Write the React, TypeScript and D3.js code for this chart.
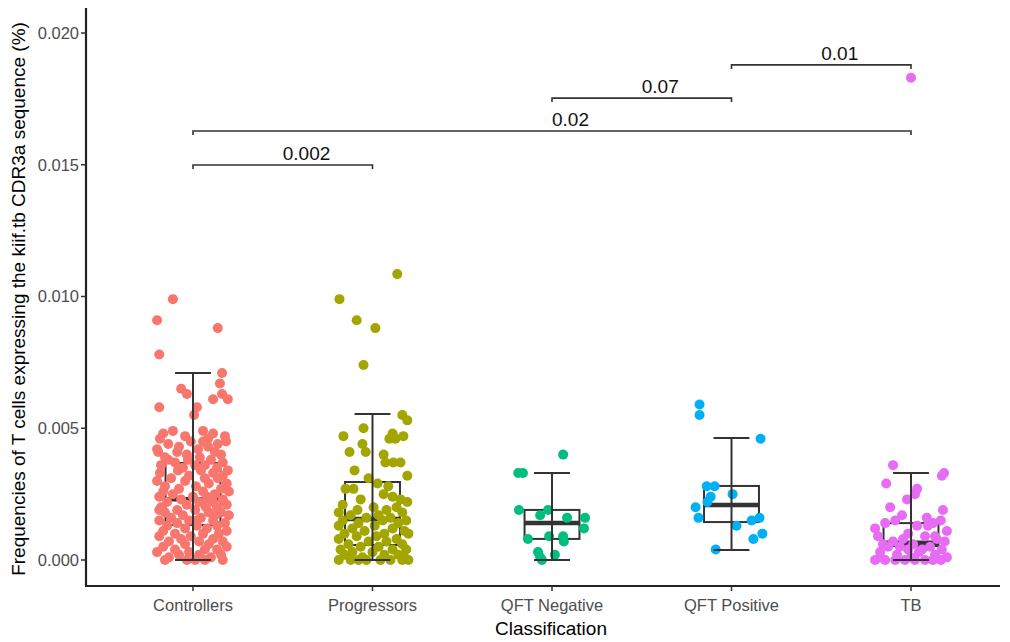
import React from "react";
import * as d3 from "d3";

const categories = ["Controllers", "Progressors", "QFT Negative", "QFT Positive", "TB"];
const colors = ["#F8766D", "#A3A500", "#00BF7D", "#00B0F6", "#E76BF3"];
const yTicks = [0, 0.005, 0.01, 0.015, 0.02];

// box summaries
const q1 = [0.00133, 0.00057, 0.0008, 0.00144, 0.00053];
const medians = [0.00231, 0.00156, 0.0014, 0.00209, 0.00065];
const q3 = [0.00368, 0.00296, 0.0019, 0.00281, 0.0014];
const whiskerLo = [0, 0, 0, 0.00038, 0];
const whiskerHi = [0.0071, 0.00554, 0.0033, 0.00463, 0.0033];

// [value, jitter (-1..1 of jitter width)]
const controllers: [number, number][] = [
  [0.0099, -0.56], [0.0091, -1], [0.0088, 0.69], [0.0078, -0.94], [0.0071, 0.81], [0.0067, 0.75],
  [0.0065, -0.33], [0.0063, -0.17], [0.0063, 0.81], [0.0061, 0.56], [0.0061, 0.97], [0.0058, -0.94],
  [0.0058, 0.11], [0.0055, 0.03], [0.0049, -0.56], [0.0049, 0.28], [0.0048, -0.83], [0.0048, 0.56],
  [0.0047, -0.22], [0.0047, 0.89], [0.0046, -0.92], [0.0046, 0.42], [0.0045, 0.28], [0.0045, 0.92],
  [0.0045, -0.06], [0.0044, -0.69], [0.0044, 0.69], [0.0043, 0.42], [0.0043, -0.39], [0.0042, 0.14],
  [0.0042, -1], [0.0041, -0.44], [0.0041, 0.61], [0.0041, -0.97], [0.004, 0.78], [0.004, -0.17],
  [0.0039, 0.19], [0.0039, -0.78], [0.0038, -0.69], [0.0038, -0.14], [0.0038, 0.5], [0.0037, 0.83],
  [0.0037, -0.5], [0.0036, 0.06], [0.0036, -0.89], [0.0036, 0.33], [0.0035, 0.67], [0.0035, -0.28],
  [0.0034, 0.97], [0.0034, -0.42], [0.0034, 0.22], [0.0033, -0.92], [0.0033, 0.56], [0.0032, -0.11],
  [0.0032, 0.83], [0.0031, 0.69], [0.0031, -0.61], [0.0031, 0.33], [0.003, -0.22], [0.003, -1],
  [0.0029, 0.44], [0.0029, 0.94], [0.0028, -0.78], [0.0028, 0.08], [0.0027, 0.78], [0.0027, -0.39],
  [0.0026, 0.28], [0.0026, -0.83], [0.0026, 1], [0.0025, -0.56], [0.0025, 0.61], [0.0024, 0],
  [0.0024, -0.94], [0.0024, 0.39], [0.0023, 0.83], [0.0023, -0.33], [0.0022, -0.72], [0.0022, 0.17],
  [0.0022, 0.56], [0.0021, -0.17], [0.0021, 0.94], [0.0021, 0.33], [0.002, 0.67], [0.002, -0.89],
  [0.002, 0.36], [0.0019, -0.44], [0.0019, 0.06], [0.0019, -0.94], [0.0018, 0.78], [0.0018, -0.78],
  [0.0018, 0.44], [0.0017, -0.28], [0.0017, 1], [0.0017, 0.61], [0.0016, 0.22], [0.0016, -0.61],
  [0.0015, 0.56], [0.0015, -0.94], [0.0015, -0.11], [0.0015, 0.11], [0.0014, 0.89], [0.0014, -0.44],
  [0.0013, 0.11], [0.0013, -0.72], [0.0013, 0.67], [0.0012, -0.22], [0.0012, 0.39], [0.0011, 0.94],
  [0.0011, -0.83], [0.001, -0.5], [0.001, 0.28], [0.001, 0.72], [0.0009, -0.06], [0.0009, -0.94],
  [0.0008, 0.56], [0.0008, -0.33], [0.0007, 0.83], [0.0007, -0.67], [0.0007, 0.17], [0.0006, -0.22],
  [0.0006, 0.44], [0.0005, -0.83], [0.0005, 0.94], [0.0004, 0.33], [0.0004, -0.5], [0.0004, 0.67],
  [0.0003, -0.11], [0.0003, -1], [0.0002, 0.78], [0.0002, 0.17], [0.0002, -0.39], [0.0001, -0.67],
  [0.0001, 0.5], [0, -0.78], [0, -0.17], [0, 0.33], [0, 0.06], [0, 0.83],
];

const progressors: [number, number][] = [
  [0.01085, 0.69], [0.0099, -0.92], [0.0091, -0.44], [0.0088, 0.08], [0.0074, -0.25], [0.0055, 0.83],
  [0.0053, 0.97], [0.005, -0.25], [0.0048, 0.56], [0.0047, -0.81], [0.0047, 0.86], [0.0046, 0.64],
  [0.0046, 0.47], [0.0044, -0.28], [0.0041, -0.64], [0.0041, -0.19], [0.004, 0.31], [0.0037, 0.36],
  [0.0037, 0.58], [0.0037, 0.78], [0.0034, -0.5], [0.0032, 0.97], [0.0031, -0.11], [0.0029, 0.14],
  [0.0028, 0.44], [0.0027, -0.75], [0.0027, -0.53], [0.0025, 0.31], [0.0024, 0.56], [0.0023, -0.33],
  [0.0023, 0.78], [0.0022, 0.97], [0.0021, -0.83], [0.002, 0.03], [0.002, 0.67], [0.0019, -0.42],
  [0.0019, 0.39], [0.0018, 0.83], [0.0018, -0.94], [0.0017, -0.61], [0.0017, 0.17], [0.0016, 0.5],
  [0.0016, -0.17], [0.0015, -0.83], [0.0015, 0.94], [0.0015, 0.28], [0.0014, -0.39], [0.0014, 0.72],
  [0.0013, -0.94], [0.0013, 0.06], [0.0012, 0.56], [0.0012, -0.56], [0.0011, 0.89], [0.0011, -0.22],
  [0.001, -0.78], [0.001, 0.33], [0.001, 1], [0.0009, -0.44], [0.0009, 0.11], [0.0008, 0.67],
  [0.0008, -0.94], [0.0007, -0.11], [0.0007, 0.39], [0.0006, -0.67], [0.0006, 0.83], [0.0005, 0.17],
  [0.0005, -0.33], [0.0004, -0.89], [0.0004, 0.56], [0.0004, 0.94], [0.0003, -0.56], [0.0003, 0],
  [0.0002, 0.33], [0.0002, -0.78], [0.0002, 0.72], [0.0001, -0.28], [0.0001, 0.89], [0, -0.94],
  [0, -0.61], [0, -0.17], [0, 0.22], [0, 0.5], [0, 0.83], [0, 1], [0, -0.39],
];

const qftNegative: [number, number][] = [
  [0.004, 0.31], [0.0033, -0.94], [0.0033, -0.81], [0.0019, -0.92], [0.0017, -0.33], [0.0019, -0.11],
  [0.0016, 0.42], [0.0016, 0.92], [0.0012, 0.89], [0.0008, -0.67], [0.0009, -0.08], [0.0009, 0.31],
  [0.0007, 0.33], [0.0003, -0.39], [0.0001, -0.33], [0.0002, 0.08], [0, -0.28],
];

const qftPositive: [number, number][] = [
  [0.0059, -0.89], [0.0055, -0.89], [0.0046, 0.81], [0.0028, -0.69], [0.0028, -0.47], [0.0024, -0.58],
  [0.0025, 0.03], [0.0022, -0.67], [0.002, -1], [0.0016, -0.92], [0.0015, 0.56], [0.0016, 0.78],
  [0.0013, 0.14], [0.0008, 0.61], [0.001, 0.86], [0.0004, -0.44],
];

const tb: [number, number][] = [
  [0.0183, 0], [0.0036, -0.5], [0.0033, 0.92], [0.0032, 0.86], [0.0029, -0.69], [0.0027, 0.17],
  [0.0025, 0.11], [0.0023, -0.11], [0.002, -0.58], [0.0019, 0.89], [0.0017, -0.25], [0.0016, 0.44],
  [0.0015, -0.44], [0.0015, 0.83], [0.0014, -0.72], [0.0014, 0.61], [0.0013, 0.17], [0.0013, 0.47],
  [0.0012, -1], [0.0011, 1], [0.001, -0.08], [0.0009, -0.92], [0.0009, 0.67], [0.0009, 0.39],
  [0.0008, 0.72], [0.0008, -0.22], [0.0007, -0.5], [0.0007, 0.94], [0.0006, 0.06], [0.0006, -0.78],
  [0.0005, -0.64], [0.0005, -0.31], [0.0005, 0.53], [0.0004, -0.08], [0.0004, 0.31], [0.0004, 0.86],
  [0.0003, -0.86], [0.0003, 0.22], [0.0002, 0.67], [0.0002, -0.39], [0.0001, -0.86], [0.0001, 1],
  [0.0001, 0], [0, -1], [0, -0.72], [0, -0.44], [0, -0.17], [0, 0.11], [0, 0.39], [0, 0.61], [0, 0.83],
];

const groups = [controllers, progressors, qftNegative, qftPositive, tb];

// significance brackets: [from, to, y, label]
const brackets: [number, number, number, string][] = [
  [0, 1, 0.01499, "0.002"],
  [0, 4, 0.01628, "0.02"],
  [2, 3, 0.01753, "0.07"],
  [3, 4, 0.01879, "0.01"],
];

const font = "'Liberation Sans', Arial, sans-serif";

export default function App() {
  const width = 1010;
  const height = 642;
  const left = 86;
  const bottom = 586;
  const top = 8;
  const right = 1000;

  const x = d3.scalePoint<string>().domain(categories).range([193, 911]);
  const step = x.step();
  const y = d3.scaleLinear().domain([0, 0.02]).range([560, 33]);

  const jitterW = 0.2 * step;
  const boxHalf = 0.153 * step;
  const capHalf = 0.1 * step;
  const stroke = "#333333";

  return (
    <svg
      width={width}
      height={height}
      style={{ position: "absolute", left: 0, top: 0, background: "#fff" }}
      fontFamily={font}
    >
      {/* boxes under the points */}
      {categories.map((c, i) => {
        const cx = x(c)!;
        return (
          <g key={c}>
            <rect
              x={cx - boxHalf}
              y={y(q3[i])}
              width={boxHalf * 2}
              height={y(q1[i]) - y(q3[i])}
              fill="none"
              stroke={stroke}
              strokeWidth={2}
            />
            <line
              x1={cx - boxHalf}
              x2={cx + boxHalf}
              y1={y(medians[i])}
              y2={y(medians[i])}
              stroke={stroke}
              strokeWidth={4.5}
            />
          </g>
        );
      })}

      {/* jittered points */}
      {groups.map((pts, i) => (
        <g key={i} fill={colors[i]}>
          {pts.map(([v, j], k) => (
            <circle key={k} cx={x(categories[i])! + j * jitterW} cy={y(v)} r={5} />
          ))}
        </g>
      ))}

      {/* error bars on top */}
      {categories.map((c, i) => {
        const cx = x(c)!;
        return (
          <g key={c} stroke={stroke} strokeWidth={2}>
            <line x1={cx} x2={cx} y1={y(whiskerLo[i])} y2={y(whiskerHi[i])} />
            <line x1={cx - capHalf} x2={cx + capHalf} y1={y(whiskerHi[i])} y2={y(whiskerHi[i])} />
            <line x1={cx - capHalf} x2={cx + capHalf} y1={y(whiskerLo[i])} y2={y(whiskerLo[i])} />
          </g>
        );
      })}

      {/* brackets */}
      {brackets.map(([a, b, v, label], i) => {
        const x1 = x(categories[a])!;
        const x2 = x(categories[b])!;
        const yy = y(v);
        return (
          <g key={i}>
            <path
              d={`M${x1},${yy + 4}V${yy}H${x2}V${yy + 4}`}
              fill="none"
              stroke={stroke}
              strokeWidth={1.6}
            />
            <text x={(x1 + x2) / 2} y={yy - 5} fontSize={19} fill="#111">
              {label}
            </text>
          </g>
        );
      })}

      {/* axes */}
      <line x1={left} x2={left} y1={top} y2={bottom} stroke="#222" strokeWidth={2.2} />
      <line x1={left - 1} x2={right} y1={bottom} y2={bottom} stroke="#222" strokeWidth={2.2} />
      {yTicks.map((t) => (
        <g key={t}>
          <line x1={left - 5} x2={left} y1={y(t)} y2={y(t)} stroke="#333" strokeWidth={1.5} />
          <text
            x={left - 7}
            y={y(t)}
            dy="0.35em"
            textAnchor="end"
            fontSize={16.5}
            fill="#4D4D4D"
          >
            {d3.format(".3f")(t)}
          </text>
        </g>
      ))}
      {categories.map((c) => (
        <g key={c}>
          <line x1={x(c)} x2={x(c)} y1={bottom} y2={bottom + 5} stroke="#333" strokeWidth={1.5} />
          <text x={x(c)} y={611} textAnchor="middle" fontSize={16.5} fill="#4D4D4D">
            {c}
          </text>
        </g>
      ))}
      <text x={(left + right) / 2 + 8} y={635} textAnchor="middle" fontSize={19} fill="#000">
        Classification
      </text>
      <text
        transform={`translate(25,${299}) rotate(-90)`}
        textAnchor="middle"
        fontSize={19}
        fill="#000"
      >
        Frequencies of T cells expressing the kiif.tb CDR3a sequence (%)
      </text>
    </svg>
  );
}
